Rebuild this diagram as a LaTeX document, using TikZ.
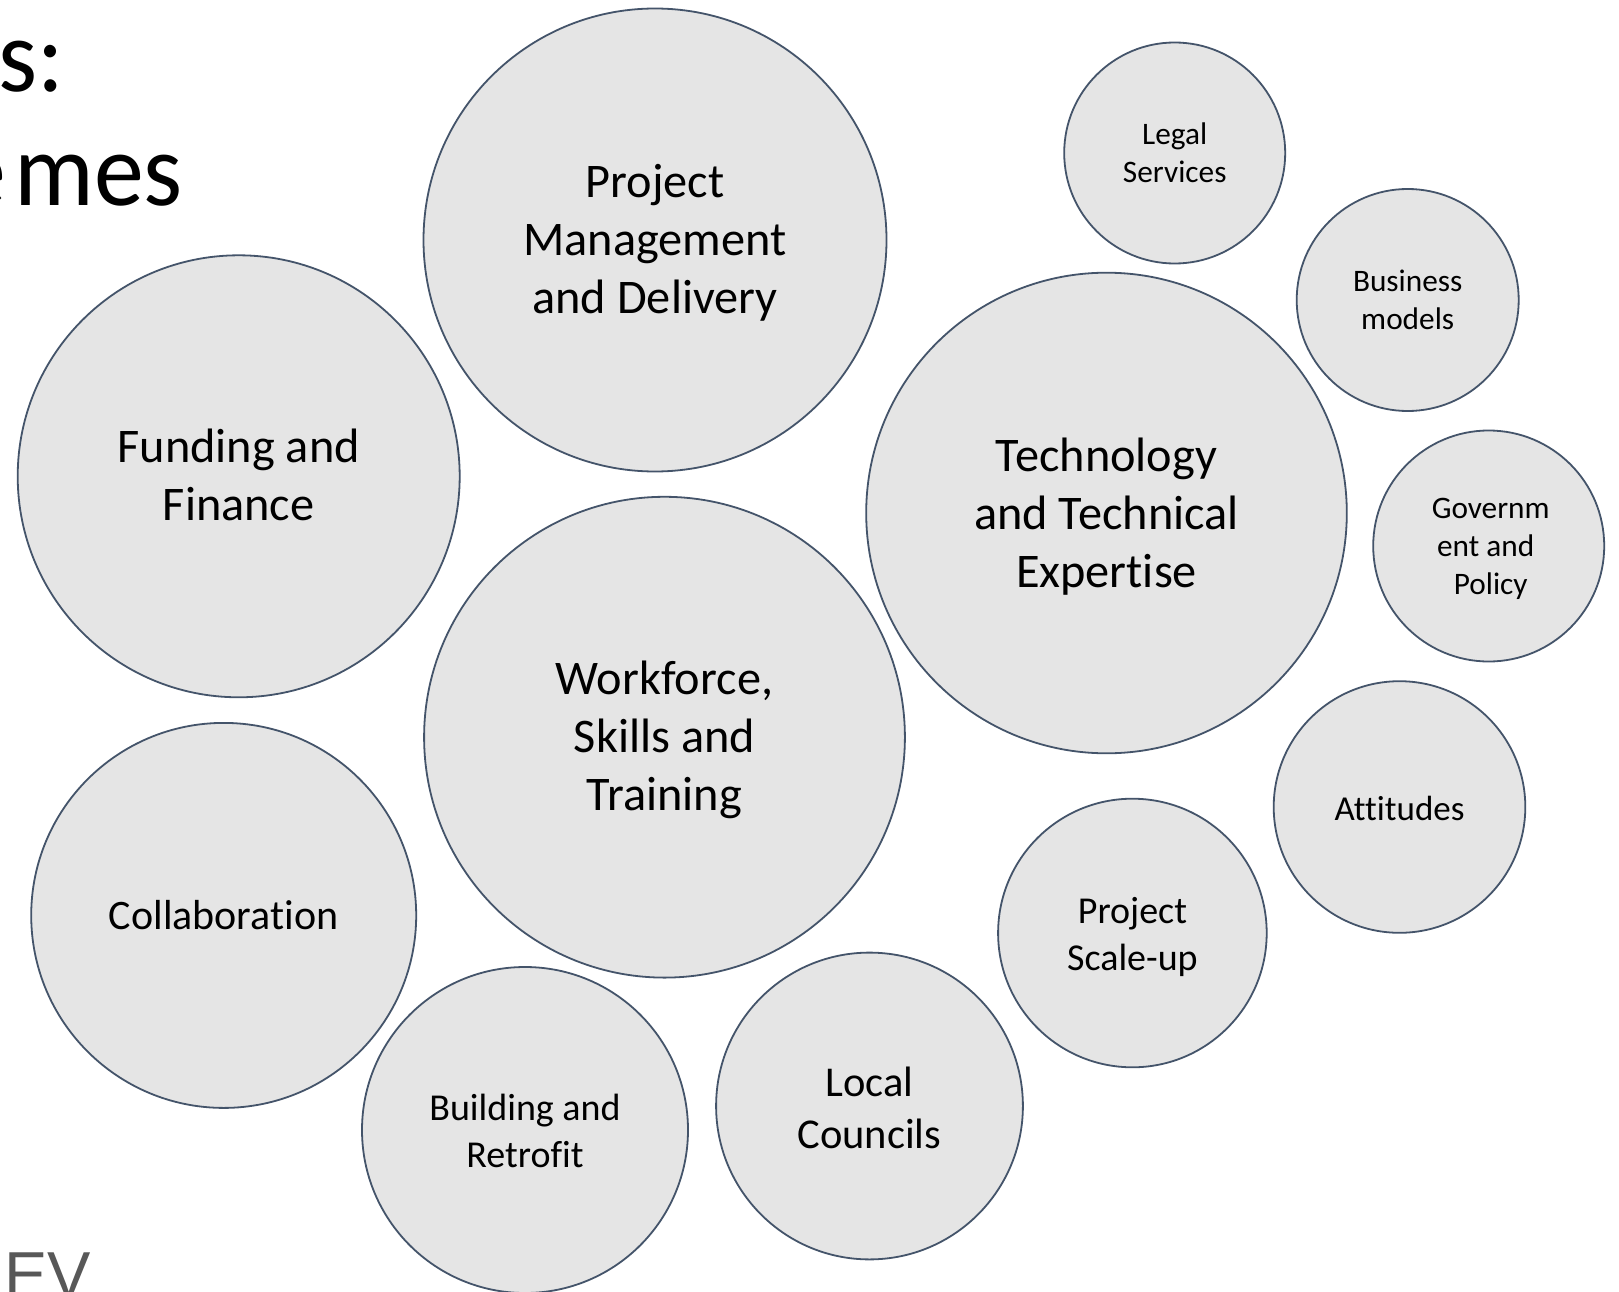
\documentclass[tikz,border=0pt]{standalone}
\usepackage{fontspec}
\setmainfont{Carlito}[RawFeature=-liga]
\newfontfamily\logofont{Liberation Sans}
\newfontfamily\ttlfont{Carlito}[FakeStretch=0.96]
\definecolor{ringc}{HTML}{44546A}
\definecolor{fillc}{HTML}{E5E5E5}
\definecolor{logoc}{HTML}{585858}
\tikzset{
  x=1pt,y=-1pt,
  bub/.style={circle,draw=ringc,fill=fillc,line width=1.8pt,inner sep=0pt},
  txt/.style={align=center,text=black,inner sep=0pt},
  fxl/.style={font=\fontsize{48.3}{58}\selectfont},
  fxm/.style={font=\fontsize{42.5}{52}\selectfont},
  fxn/.style={font=\fontsize{38}{46.5}\selectfont},
  fxc/.style={font=\fontsize{42}{50}\selectfont},
  fxa/.style={font=\fontsize{35}{42}\selectfont},
  fxs/.style={font=\fontsize{31.3}{38}\selectfont},
  ttl/.style={anchor=base east,inner sep=0pt,font=\ttlfont\fontsize{104}{115}\selectfont},
}
\newcommand{\bubble}[5]{%
  \node[bub,minimum size=#4*2pt] (#1) at (#2,#3) {};
  \node[txt,#5] (#1t) at (#1)}
\begin{document}
\begin{tikzpicture}
\path[use as bounding box,clip] (0,0) rectangle (1619,1292);
\fill[white] (0,0) rectangle (1619,1292);
\node[ttl] (title1) at (64,92) {s:};
\node[ttl] (title2) at (183,206) {e\kern8pt mes};
\node[anchor=base west,inner sep=0pt,text=logoc,font=\logofont\fontsize{65}{65}\selectfont] (logo) at (4,1297) {EV};
\bubble{pm}{655}{240}{231.5}{fxl,yshift=-3pt} {Project\\Management\\and Delivery};
\bubble{fund}{238.7}{476.3}{221}{fxl,yshift=1pt} {Funding and\\Finance};
\bubble{work}{664.5}{737.2}{240.4}{fxl,yshift=-3pt} {Workforce,\\Skills and\\Training};
\bubble{tech}{1106.5}{513}{240.3}{fxl,yshift=-4pt} {Technology\\and Technical\\Expertise};
\bubble{coll}{223.7}{915.4}{192.5}{fxc} {Collaboration};
\bubble{build}{525}{1130}{163}{fxn,yshift=-1pt} {Building and\\Retrofit};
\bubble{local}{869.5}{1106}{153.4}{fxm,yshift=-2pt} {Local\\Councils};
\bubble{scale}{1132.4}{933}{134.3}{fxn,yshift=-4pt} {Project\\Scale-up};
\bubble{att}{1399.5}{807}{125.8}{fxa,yshift=-1pt} {Attitudes};
\bubble{gov}{1488.7}{546}{115.5}{fxs,yshift=-3pt,xshift=2pt} {Governm\\ent and\rule{10pt}{0pt}\\Policy};
\bubble{bus}{1407.7}{300}{111}{fxs} {Business\\models};
\bubble{legal}{1174.7}{153}{110.5}{fxs} {Legal\\Services};
\end{tikzpicture}
\end{document}
